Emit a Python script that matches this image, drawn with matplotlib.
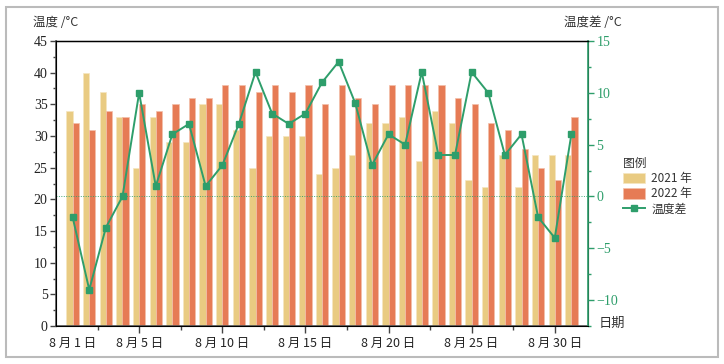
import numpy as np
import matplotlib
matplotlib.use("Agg")
import matplotlib.pyplot as plt
from matplotlib.patches import Rectangle
from matplotlib.ticker import FixedLocator, MultipleLocator

plt.rcParams['font.family'] = ['Noto Sans CJK SC', 'DejaVu Sans']
plt.rcParams['axes.unicode_minus'] = True

days = list(range(1, 32))
temp_2021 = [34, 40, 37, 33, 25, 33, 29, 29, 35, 35, 31, 25, 30, 30, 30, 24,
             25, 27, 32, 32, 33, 26, 34, 32, 23, 22, 27, 22, 27, 27, 27]
temp_2022 = [32, 31, 34, 33, 35, 34, 35, 36, 36, 38, 38, 37, 38, 37, 38, 35,
             38, 36, 35, 38, 38, 38, 38, 36, 35, 32, 31, 28, 25, 23, 33]
diff = [-2, -9, -3, 0, 10, 1, 6, 7, 1, 3, 7, 12, 8, 7, 8, 11,
        13, 9, 3, 6, 5, 12, 4, 4, 12, 10, 4, 6, -2, -4, 6]
tick_days = [1, 5, 10, 15, 20, 25, 30]
tick_labels = ["8 月 1 日", "8 月 5 日", "8 月 10 日", "8 月 15 日",
               "8 月 20 日", "8 月 25 日", "8 月 30 日"]

c21 = "#E9CB82"
c22 = "#E67B55"
green = "#2E9E6B"

fig = plt.figure(figsize=(7.24, 3.64), dpi=100)
ax = fig.add_axes([56/724, 1-326/364, (588-56)/724, (326-41)/364])
ax2 = ax.twinx()

x = np.array(days)
w = 0.37
ax.bar(x - w/2, temp_2021, width=w, color=c21, edgecolor="#F5E6C0", linewidth=0.5, label="2021 年", zorder=2)
ax.bar(x + w/2, temp_2022, width=w, color=c22, edgecolor="#F3BFAA", linewidth=0.5, label="2022 年", zorder=2)

ax2.axhline(0, color=green, linestyle=(0, (1, 1.5)), linewidth=0.7, alpha=0.9, zorder=1)
ax2.plot(x, diff, color=green, marker="s", markersize=5, linewidth=1.4, label="温度差", zorder=3)

ax.set_xlim(0, 32)
ax.set_ylim(0, 45)
ax2.set_ylim(-12.5, 15)

ax.xaxis.set_major_locator(FixedLocator(tick_days))
ax.set_xticklabels(tick_labels, fontsize=9)
ax.xaxis.set_minor_locator(FixedLocator([2.5, 7.5, 12.5, 17.5, 22.5, 27.5]))
ax.get_xaxis().get_major_ticks()[0].tick1line.set_visible(False)

ax.yaxis.set_major_locator(MultipleLocator(5))
ax.yaxis.set_minor_locator(MultipleLocator(2.5))
ax2.yaxis.set_major_locator(MultipleLocator(5))
ax2.yaxis.set_minor_locator(MultipleLocator(2.5))

ax.tick_params(axis="x", which="major", direction="out", length=5, width=1, colors="#444444", pad=3)
ax.tick_params(axis="x", which="minor", direction="out", length=3, width=1, colors="#444444")
ax.tick_params(axis="x", labelcolor="#222222")
ax.tick_params(axis="y", which="major", direction="out", length=4, width=1, colors="#444444", pad=2,
               labelsize=10, labelfontfamily="Liberation Serif")
ax.tick_params(axis="y", which="minor", direction="out", length=2.5, width=1, colors="#444444")
ax.tick_params(axis="y", labelcolor="#222222")
ax2.tick_params(axis="y", which="major", direction="out", length=4, width=1, colors=green, pad=2,
                labelsize=10, labelfontfamily="Liberation Serif")
ax2.tick_params(axis="y", which="minor", direction="out", length=2.5, width=1, colors=green)

ax.spines["left"].set_color("#555555")
ax.spines["bottom"].set_color("#555555")
ax.spines["top"].set_color("#000000")
ax2.spines["right"].set_color(green)
ax2.spines["top"].set_color("#000000")
for sp in ["left", "bottom"]:
    ax.spines[sp].set_linewidth(1.2)
ax2.spines["right"].set_linewidth(1.2)
ax2.spines["top"].set_linewidth(1.0)

fig.text(33/724, 1-22/364, "温度 /°C", fontsize=9, color="#333333", ha="left", va="center")
fig.text(622/724, 1-22/364, "温度差 /°C", fontsize=9, color="#333333", ha="right", va="center")
fig.text(599/724, 1-323/364, "日期", fontsize=9.5, color="#333333", ha="left", va="center")

h1, l1 = ax.get_legend_handles_labels()
h2, l2 = ax2.get_legend_handles_labels()
leg = fig.legend(h1 + h2, l1 + l2, title="图例", loc="upper left",
                 bbox_to_anchor=(618/724, 1-152/364), frameon=False,
                 fontsize=8.5, title_fontsize=8.5, handlelength=1.9,
                 handleheight=1.0, handletextpad=0.5, labelspacing=0.2,
                 borderaxespad=0, alignment="left")
for t in leg.get_texts():
    t.set_color("#333333")
leg.get_title().set_color("#333333")

fig.patches.append(Rectangle((6/724, 7/364), 712/724, 350/364, transform=fig.transFigure,
                             fill=False, edgecolor="#BBBBBB", linewidth=1.5))

fig.savefig("out.png", dpi=100)
